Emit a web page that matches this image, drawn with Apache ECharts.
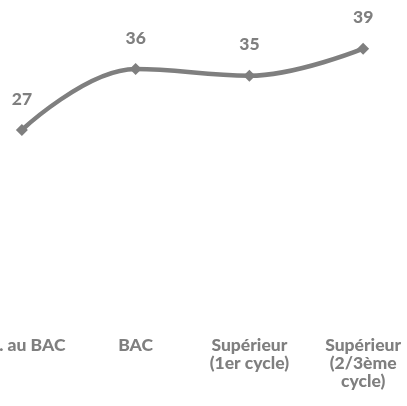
<!DOCTYPE html>
<html>
<head>
<meta charset="utf-8">
<script src="https://cdn.jsdelivr.net/npm/echarts@6/dist/echarts.min.js"></script>
<style>
  html, body { margin: 0; padding: 0; background: #fff; }
  #chart { width: 407px; height: 406px; }
</style>
</head>
<body>
<div id="chart"></div>
<script>
var categories = ['Inf. au BAC', 'BAC', 'Supérieur\n(1er cycle)', 'Supérieur\n(2/3ème\ncycle)'];
var values = [27, 36, 35, 39];

var chart = echarts.init(document.getElementById('chart'));

var option = {
    animation: false,
    grid: {
        left: -35,
        right: -13,
        top: 8,
        bottom: 93,
        containLabel: false,
        outerBoundsMode: 'none'
    },
    xAxis: {
        type: 'category',
        data: categories,
        boundaryGap: true,
        axisLine: { show: false },
        axisTick: { show: false },
        axisLabel: {
            interval: 0,
            margin: 23,
            color: '#7f7f7f',
            fontFamily: 'Lato',
            fontWeight: 900,
            fontSize: 17.5,
            lineHeight: 18
        }
    },
    yAxis: {
        type: 'value',
        min: 0,
        max: 45,
        show: false,
        splitLine: { show: false }
    },
    series: [
        {
            type: 'line',
            data: values,
            smooth: 0.4,
            symbol: 'diamond',
            symbolSize: 12,
            lineStyle: { color: '#7f7f7f', width: 4.5 },
            itemStyle: { color: '#7f7f7f' },
            label: {
                show: true,
                position: 'top',
                distance: 16,
                color: '#7f7f7f',
                fontFamily: 'Lato',
                fontWeight: 900,
                fontSize: 17.5
            }
        }
    ]
};

chart.setOption(option);
</script>
</body>
</html>
